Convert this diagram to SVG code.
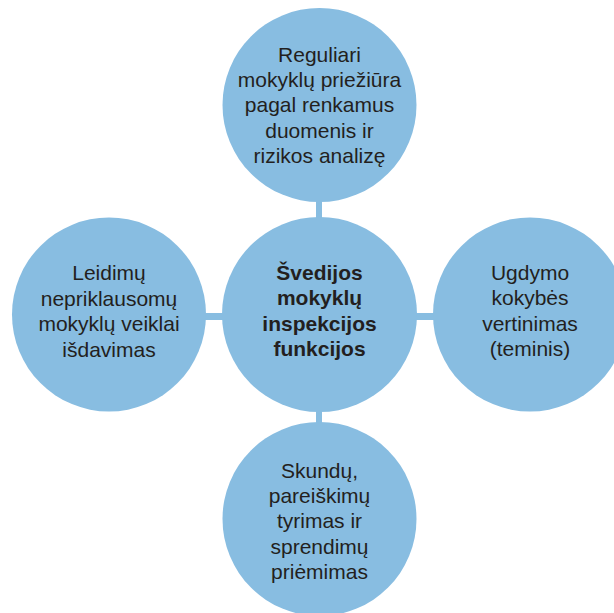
<svg xmlns="http://www.w3.org/2000/svg" width="614" height="613" viewBox="0 0 614 613">
<style>
.c{fill:#88BDE1}
.t{font-family:"Liberation Sans",Arial,sans-serif;font-size:21px;fill:#231F20;text-anchor:middle}
.b{font-weight:bold}
</style>
<rect width="614" height="613" fill="#FFFFFF"/>
<g id="connectors" fill="#88BDE1">
<rect x="316" y="198" width="6" height="24"/>
<rect x="316" y="408" width="6" height="18"/>
<rect x="202" y="313" width="24" height="7"/>
<rect x="412" y="313" width="25" height="7"/>
</g>
<g id="node-top">
<circle class="c" cx="319.5" cy="105" r="97"/>
<text class="t" x="319.5" y="62">Reguliari</text>
<text class="t" x="319.5" y="87">mokyklų priežiūra</text>
<text class="t" x="319.5" y="112">pagal renkamus</text>
<text class="t" x="319.5" y="137.5">duomenis ir</text>
<text class="t" x="319.5" y="163">rizikos analizę</text>
</g>
<g id="node-center">
<circle class="c" cx="319.5" cy="314.5" r="97.5"/>
<text class="t b" x="319.5" y="279.5">Švedijos</text>
<text class="t b" x="319.5" y="305">mokyklų</text>
<text class="t b" x="319.5" y="330.5">inspekcijos</text>
<text class="t b" x="319.5" y="356">funkcijos</text>
</g>
<g id="node-left">
<circle class="c" cx="109" cy="314.5" r="97"/>
<text class="t" x="109" y="280">Leidimų</text>
<text class="t" x="109" y="305.5">nepriklausomų</text>
<text class="t" x="109" y="331">mokyklų veiklai</text>
<text class="t" x="109" y="356.5">išdavimas</text>
</g>
<g id="node-right">
<circle class="c" cx="530" cy="314.5" r="97"/>
<text class="t" x="530" y="279.5">Ugdymo</text>
<text class="t" x="530" y="305">kokybės</text>
<text class="t" x="530" y="330.5">vertinimas</text>
<text class="t" x="530" y="355.5">(teminis)</text>
</g>
<g id="node-bottom">
<circle class="c" cx="319.5" cy="519" r="97"/>
<text class="t" x="319.5" y="477.5">Skundų,</text>
<text class="t" x="319.5" y="502.5">pareiškimų</text>
<text class="t" x="319.5" y="528">tyrimas ir</text>
<text class="t" x="319.5" y="553.5">sprendimų</text>
<text class="t" x="319.5" y="578.5">priėmimas</text>
</g>
</svg>
